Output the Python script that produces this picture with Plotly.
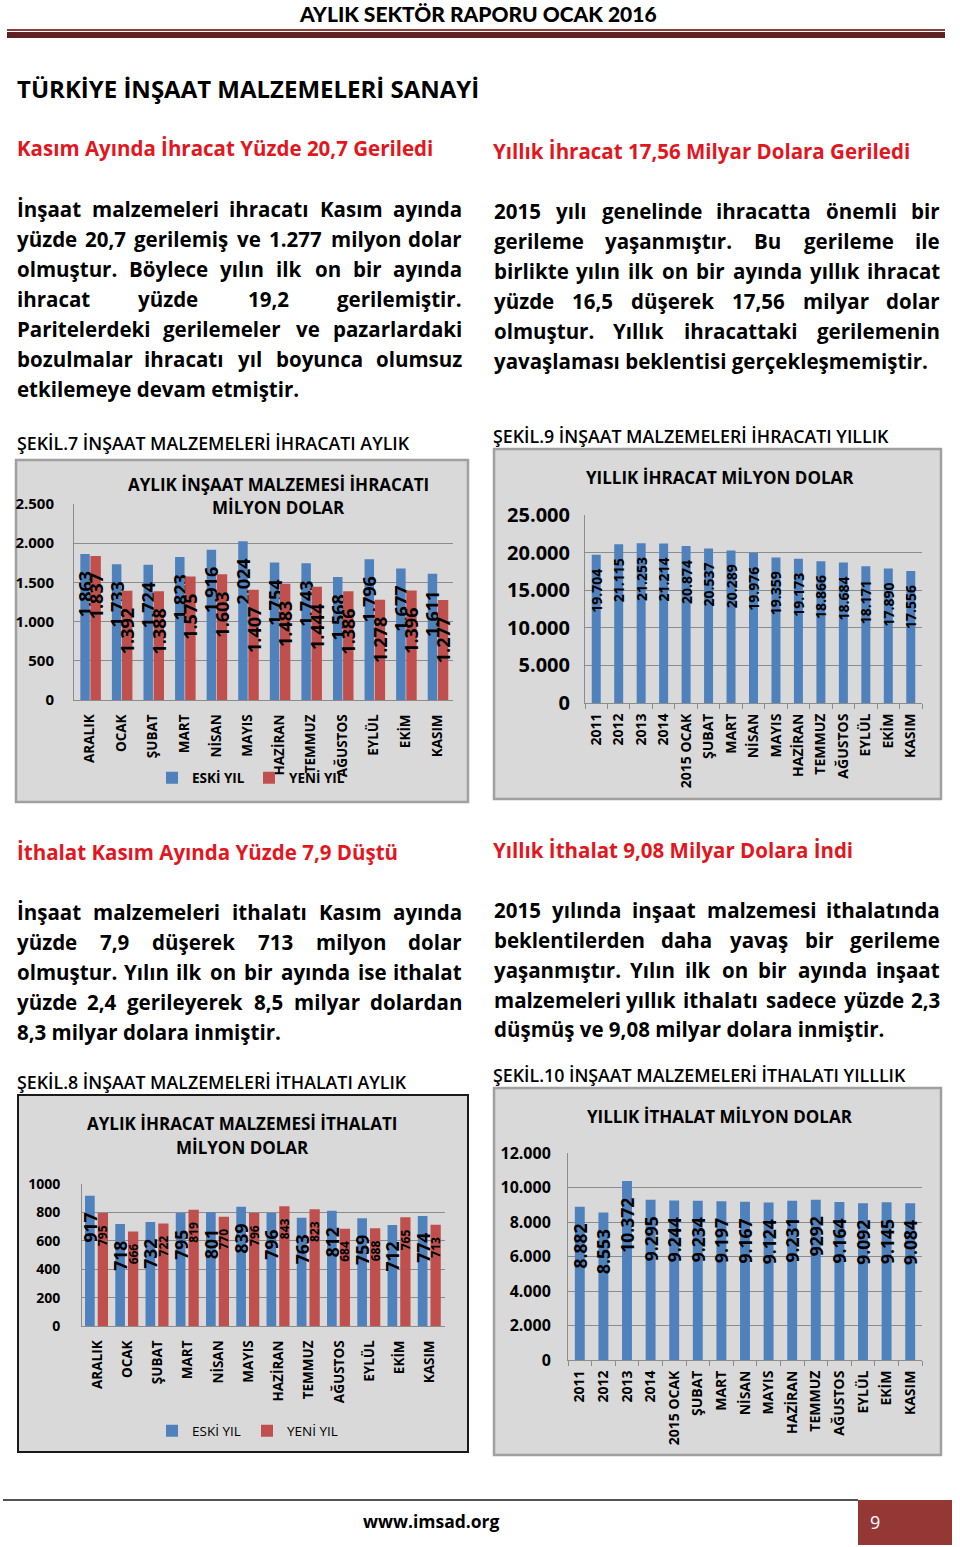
import plotly.graph_objects as go

W, H = 960, 1547
def X(px): return px / W
def Y(py): return 1 - py / H

FONT = "Open Sans"
BLUE = "#4F81BD"
RED = "#C0504D"
BOXFILL = "#D9D9D9"
GRID = "#8C8C8C"
HEAD_RED = "#E3161E"

# ---------------- data ----------------
months12 = ["ARALIK", "OCAK", "ŞUBAT", "MART", "NİSAN", "MAYIS", "HAZİRAN",
            "TEMMUZ", "AĞUSTOS", "EYLÜL", "EKİM", "KASIM"]
exp_old = [1863, 1733, 1724, 1823, 1916, 2024, 1754, 1743, 1568, 1796, 1677, 1611]
exp_new = [1837, 1392, 1388, 1575, 1603, 1407, 1483, 1444, 1386, 1278, 1396, 1277]

periods15 = ["2011", "2012", "2013", "2014", "2015 OCAK", "ŞUBAT", "MART", "NİSAN",
             "MAYIS", "HAZİRAN", "TEMMUZ", "AĞUSTOS", "EYLÜL", "EKİM", "KASIM"]
exp_annual = [19704, 21115, 21253, 21214, 20874, 20537, 20289, 19976, 19359,
              19173, 18866, 18684, 18171, 17890, 17556]

imp_old = [917, 718, 732, 795, 801, 839, 796, 763, 812, 759, 712, 774]
imp_new = [795, 666, 722, 819, 770, 796, 843, 823, 684, 688, 765, 713]

imp_annual = [8882, 8553, 10372, 9295, 9244, 9234, 9197, 9167, 9124, 9231,
              9292, 9164, 9092, 9145, 9084]
imp_annual_labels = ["8.882", "8.553", "10.372", "9.295", "9.244", "9.234", "9.197",
                     "9.167", "9.124", "9.231", "9292", "9.164", "9.092", "9.145", "9.084"]

series_names = ["ESKİ YIL", "YENİ YIL"]

# ---------------- helpers ----------------
def dotted(v):
    return f"{v:,}".replace(",", ".")

PAD = "\u00a0" * 3

def bar(x, y, text, color, name, xa, ya, size, offset, width, showlegend=False, legend="legend"):
    return go.Bar(
        x=x, y=y, name=name, marker=dict(color=color, line=dict(width=0)),
        offset=offset, width=width,
        text=[t + PAD for t in text], textposition="inside", insidetextanchor="end",
        textangle=-90, constraintext="none",
        textfont=dict(family=FONT, size=size, color="black", weight="bold"),
        insidetextfont=dict(family=FONT, size=size, color="black", weight="bold"),
        xaxis=xa, yaxis=ya, showlegend=showlegend, legend=legend, hoverinfo="x+y",
        cliponaxis=False,
    )

fig = go.Figure()

# Chart 7 – monthly exports
fig.add_trace(bar(months12, exp_old, [dotted(v) for v in exp_old], BLUE, series_names[0],
                  "x", "y", 18, -0.30, 0.30, True, "legend"))
fig.add_trace(bar(months12, exp_new, [dotted(v) for v in exp_new], RED, series_names[1],
                  "x", "y", 18, 0.02, 0.33, True, "legend"))
# Chart 9 – annual exports
fig.add_trace(bar(periods15, exp_annual, [dotted(v) for v in exp_annual], BLUE, "YILLIK",
                  "x2", "y2", 14, -0.20, 0.40))
# Chart 8 – monthly imports
fig.add_trace(bar(months12, imp_old, [str(v) for v in imp_old], BLUE, series_names[0],
                  "x3", "y3", 17.5, -0.40, 0.32, True, "legend2"))
fig.add_trace(bar(months12, imp_new, [str(v) for v in imp_new], RED, series_names[1],
                  "x3", "y3", 12, 0.02, 0.34, True, "legend2"))
# Chart 10 – annual imports
fig.add_trace(bar(periods15, imp_annual, imp_annual_labels, BLUE, "YILLIK",
                  "x4", "y4", 17.5, -0.21, 0.42))

def xax(px0, px1, anchor, size, ticks):
    return dict(domain=[X(px0), X(px1)], anchor=anchor, type="category", tickangle=-90,
                tickfont=dict(family=FONT, size=size, color="black", weight="bold"),
                showgrid=False, showline=True, linecolor=GRID, linewidth=1,
                ticks="outside" if ticks else "", tickson="boundaries", ticklen=5,
                tickcolor=GRID, ticklabelstandoff=4 if ticks else 8,
                automargin=False, fixedrange=True, zeroline=False)

def yax(py_top, py_bot, anchor, rng, dtick, fmt, size, standoff):
    return dict(domain=[Y(py_bot), Y(py_top)], anchor=anchor, range=rng, dtick=dtick,
                tickformat=fmt, tickfont=dict(family=FONT, size=size, color="black", weight="bold"),
                showgrid=True, gridcolor=GRID, gridwidth=1, showline=True, linecolor=GRID,
                linewidth=1, zeroline=False, ticks="", ticklabelstandoff=standoff,
                automargin=False, fixedrange=True)

layout = dict(
    width=W, height=H, margin=dict(l=0, r=0, t=0, b=0),
    paper_bgcolor="white", plot_bgcolor="rgba(0,0,0,0)",
    separators=",.", barmode="overlay", font=dict(family=FONT, color="black"),
    xaxis=xax(74, 453, "y", 13.5, False),
    yaxis=yax(504, 700, "x", [0, 2500], 500, ",d", 15, 16),
    xaxis2=xax(585, 922, "y2", 14, True),
    yaxis2=yax(515, 703, "x2", [0, 25000], 5000, ",d", 20, 10),
    xaxis3=xax(82, 445, "y3", 13.5, False),
    yaxis3=yax(1184, 1326, "x3", [0, 1000], 200, "d", 14, 18),
    xaxis4=xax(568, 922, "y4", 14, True),
    yaxis4=yax(1153, 1360, "x4", [0, 12000], 2000, ",d", 16, 13),
    legend=dict(orientation="h", x=X(152), y=Y(778), xanchor="left", yanchor="middle",
                font=dict(family=FONT, size=13.5, color="black", weight="bold"),
                bgcolor="rgba(0,0,0,0)", itemwidth=30, entrywidth=52,
                entrywidthmode="pixels"),
    legend2=dict(orientation="h", x=X(152), y=Y(1431), xanchor="left", yanchor="middle",
                 font=dict(family=FONT, size=13.5, color="black"),
                 bgcolor="rgba(0,0,0,0)", itemwidth=30, entrywidth=50,
                 entrywidthmode="pixels"),
)
fig.update_layout(**layout)

# ---------------- shapes ----------------
shapes = []
def rect(x0, y0, x1, y1, fill, lc=None, lw=0, layer="below"):
    shapes.append(dict(type="rect", xref="paper", yref="paper", x0=X(x0), x1=X(x1),
                       y0=Y(y1), y1=Y(y0), fillcolor=fill, layer=layer,
                       line=dict(color=lc or fill, width=lw)))
def hline(x0, x1, y, color, w):
    shapes.append(dict(type="line", xref="paper", yref="paper", x0=X(x0), x1=X(x1),
                       y0=Y(y), y1=Y(y), line=dict(color=color, width=w), layer="above"))

hline(7, 945, 30, "#8E3B3B", 2)
rect(7, 32, 945, 38, "#5E2121")
rect(16, 460, 468, 802, BOXFILL, "#A0A0A0", 2.5)
rect(494, 449, 941, 799, BOXFILL, "#A0A0A0", 2.5)
rect(18, 1095, 468, 1452, BOXFILL, "#1A1A1A", 2)
rect(494, 1088, 941, 1455, BOXFILL, "#A0A0A0", 2.5)
hline(3, 858, 1500, "#1A1A1A", 1.5)
rect(858, 1500, 952, 1545, "#953735", layer="above")
fig.update_layout(shapes=shapes)

# ---------------- text ----------------
anns = []
def ann(text, x, y, xanchor="left", size=20, color="black", weight="bold", family=FONT):
    anns.append(dict(text=text, x=X(x), y=Y(y), xref="paper", yref="paper",
                     xanchor=xanchor, yanchor="middle", showarrow=False, borderpad=0,
                     font=dict(family=family, size=size, color=color, weight=weight)))

OSB = {}
for ch, w in {"a": .598, "b": .633, "c": .519, "ç": .519, "d": .633, "e": .592, "f": .397,
              "g": .557, "ğ": .557, "h": .648, "i": .303, "ı": .303, "j": .303, "k": .62,
              "l": .303, "m": .968, "n": .648, "o": .623, "ö": .623, "p": .633, "r": .446,
              "s": .503, "ş": .503, "t": .433, "u": .648, "ü": .648, "v": .575, "w": .837,
              "y": .575, "z": .491, ".": .295, ",": .295, "B": .669, "Y": .58, "K": .644,
              "P": .629, "I": .355, "İ": .355}.items():
    OSB[ch] = w
for d in "0123456789":
    OSB[d] = .572

def tw(word, size):
    return sum(OSB.get(c, .62) for c in word) * size

def para(lines, x0, x1, ys, size=20.5):
    for i, (line, yy) in enumerate(zip(lines, ys)):
        words = line.split()
        if i == len(lines) - 1:
            ann(line, x0, yy, "left", size)
            continue
        widths = [tw(w, size) for w in words]
        gap = (x1 - x0 - sum(widths)) / (len(words) - 1)
        pos = x0
        for j, (w, wd) in enumerate(zip(words, widths)):
            if j == 0:
                ann(w, x0, yy, "left", size)
            elif j == len(words) - 1:
                ann(w, x1, yy, "right", size)
            else:
                ann(w, pos + wd / 2, yy, "center", size)
            pos += wd + gap

ann("AYLIK SEKTÖR RAPORU OCAK 2016", 478, 14, "center", 21, weight=900, family="Lato")
ann("TÜRKİYE İNŞAAT MALZEMELERİ SANAYİ", 16, 88, "left", 24)

ann("Kasım Ayında İhracat Yüzde 20,7 Geriledi", 16, 148, "left", 20.5, HEAD_RED)
ann("Yıllık İhracat 17,56 Milyar Dolara Geriledi", 492, 151, "left", 20.5, HEAD_RED)
ann("İthalat Kasım Ayında Yüzde 7,9 Düştü", 16, 852, "left", 20.5, HEAD_RED)
ann("Yıllık İthalat 9,08 Milyar Dolara İndi", 492, 850, "left", 20.5, HEAD_RED)

para(["İnşaat malzemeleri ihracatı Kasım ayında",
      "yüzde 20,7 gerilemiş ve 1.277 milyon dolar",
      "olmuştur. Böylece yılın ilk on bir ayında",
      "ihracat yüzde 19,2 gerilemiştir.",
      "Paritelerdeki gerilemeler ve pazarlardaki",
      "bozulmalar ihracatı yıl boyunca olumsuz",
      "etkilemeye devam etmiştir."],
     16, 463, [209, 239, 269, 299, 329, 359, 389])
para(["2015 yılı genelinde ihracatta önemli bir",
      "gerileme yaşanmıştır. Bu gerileme ile",
      "birlikte yılın ilk on bir ayında yıllık ihracat",
      "yüzde 16,5 düşerek 17,56 milyar dolar",
      "olmuştur. Yıllık ihracattaki gerilemenin",
      "yavaşlaması beklentisi gerçekleşmemiştir."],
     493, 941, [211, 241, 271, 301, 331, 361])
para(["İnşaat malzemeleri ithalatı Kasım ayında",
      "yüzde 7,9 düşerek 713 milyon dolar",
      "olmuştur. Yılın ilk on bir ayında ise ithalat",
      "yüzde 2,4 gerileyerek 8,5 milyar dolardan",
      "8,3 milyar dolara inmiştir."],
     16, 463, [912, 942, 972, 1002, 1032])
para(["2015 yılında inşaat malzemesi ithalatında",
      "beklentilerden daha yavaş bir gerileme",
      "yaşanmıştır. Yılın ilk on bir ayında inşaat",
      "malzemeleri yıllık ithalatı sadece yüzde 2,3",
      "düşmüş ve 9,08 milyar dolara inmiştir."],
     493, 941, [910, 940, 970, 1000, 1029])

ann("ŞEKİL.7 İNŞAAT MALZEMELERİ İHRACATI AYLIK", 16, 443, "left", 17.8, weight=600)
ann("ŞEKİL.9 İNŞAAT MALZEMELERİ İHRACATI YILLIK", 492, 436, "left", 17.8, weight=600)
ann("ŞEKİL.8 İNŞAAT MALZEMELERİ İTHALATI AYLIK", 16, 1082, "left", 17.8, weight=600)
ann("ŞEKİL.10 İNŞAAT MALZEMELERİ İTHALATI YILLLIK", 492, 1075, "left", 17.8, weight=600)

ann("AYLIK İNŞAAT MALZEMESİ İHRACATI", 278, 484, "center", 17)
ann("MİLYON DOLAR", 278, 508, "center", 17)
ann("YILLIK İHRACAT MİLYON DOLAR", 720, 477, "center", 17)
ann("AYLIK İHRACAT MALZEMESİ İTHALATI", 242, 1123, "center", 17)
ann("MİLYON DOLAR", 242, 1147, "center", 17)
ann("YILLIK İTHALAT MİLYON DOLAR", 720, 1116, "center", 17)

ann("www.imsad.org", 431, 1521, "center", 17.5)
ann("9", 875, 1522, "center", 18, "white", "normal")

fig.update_layout(annotations=anns)
fig.write_html("out.html", config={"displayModeBar": False},
               post_script="document.body.style.margin='0';document.body.style.padding='0';")
